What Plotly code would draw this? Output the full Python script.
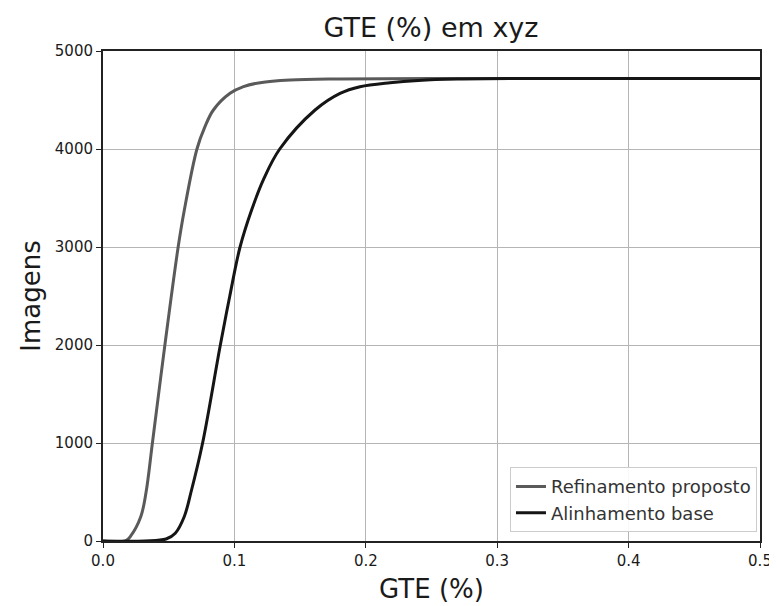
import plotly.graph_objects as go

# Refinamento proposto (gray curve)
ref_x = [0.0, 0.017, 0.021, 0.0288, 0.0328, 0.0376, 0.0471, 0.0572, 0.0619, 0.0715, 0.0776, 0.0840,
         0.0967, 0.1069, 0.1196, 0.1425, 0.18, 0.25, 0.5]
ref_y = [0, 0, 50, 250, 500, 1000, 2000, 3000, 3378, 4000, 4228, 4398,
         4568, 4636, 4677, 4704, 4715, 4720, 4720]

# Alinhamento base (black curve)
base_x = [0.0, 0.032, 0.048, 0.055, 0.0618, 0.067, 0.0758, 0.0893, 0.0965, 0.1043, 0.1131, 0.1225,
          0.1345, 0.1614, 0.1804, 0.1956, 0.2184, 0.24, 0.27, 0.32, 0.5]
base_y = [0, 0, 20, 80, 248, 500, 1000, 2000, 2500, 3000, 3378, 3700,
          4000, 4398, 4568, 4636, 4677, 4700, 4714, 4720, 4720]

x_ticks = [0.0, 0.1, 0.2, 0.3, 0.4, 0.5]
x_tick_labels = ["0.0", "0.1", "0.2", "0.3", "0.4", "0.5"]
y_ticks = [0, 1000, 2000, 3000, 4000, 5000]
y_tick_labels = ["0", "1000", "2000", "3000", "4000", "5000"]

fig = go.Figure()
fig.add_trace(go.Scatter(x=ref_x, y=ref_y, mode="lines", name="Refinamento proposto",
                         line=dict(color="#5a5a5a", width=3, shape="spline", smoothing=1.0)))
fig.add_trace(go.Scatter(x=base_x, y=base_y, mode="lines", name="Alinhamento base",
                         line=dict(color="#151515", width=3, shape="spline", smoothing=1.0)))

font = "DejaVu Sans, sans-serif"
fig.update_layout(
    width=777, height=606,
    margin=dict(l=95, r=25, t=43, b=73, autoexpand=False),
    paper_bgcolor="white", plot_bgcolor="white",
    font=dict(family=font, color="#1a1a1a", size=15),
    title=dict(text="GTE (%) em xyz", x=(431 - 8) / 777, xanchor="center", y=1 - 20 / 606, yanchor="middle",
               font=dict(size=27, family=font, color="#1a1a1a")),
    showlegend=True,
    legend=dict(x=0.9954, y=0.018, xanchor="right", yanchor="bottom",
                bgcolor="rgba(255,255,255,0.9)", bordercolor="#cccccc", borderwidth=1,
                font=dict(size=18, family=font, color="#333333"), tracegroupgap=2),
    xaxis=dict(range=[0, 0.5], tickvals=x_ticks, ticktext=x_tick_labels, automargin=False,
               showgrid=True, gridcolor="#b5b5b5", gridwidth=1,
               showline=True, linecolor="#222222", linewidth=2, mirror=True,
               ticks="outside", ticklen=5, tickcolor="#222222", zeroline=False,
               title=dict(text="GTE (%)", font=dict(size=26, family=font), standoff=11),
               tickfont=dict(size=15)),
    yaxis=dict(range=[0, 5000], tickvals=y_ticks, ticktext=y_tick_labels, automargin=False,
               showgrid=True, gridcolor="#b5b5b5", gridwidth=1,
               showline=True, linecolor="#222222", linewidth=2, mirror=True,
               ticks="outside", ticklen=5, tickcolor="#222222", zeroline=False,
               title=dict(text="Imagens", font=dict(size=26, family=font), standoff=7),
               tickfont=dict(size=15)),
)

fig.write_html("out.html")
